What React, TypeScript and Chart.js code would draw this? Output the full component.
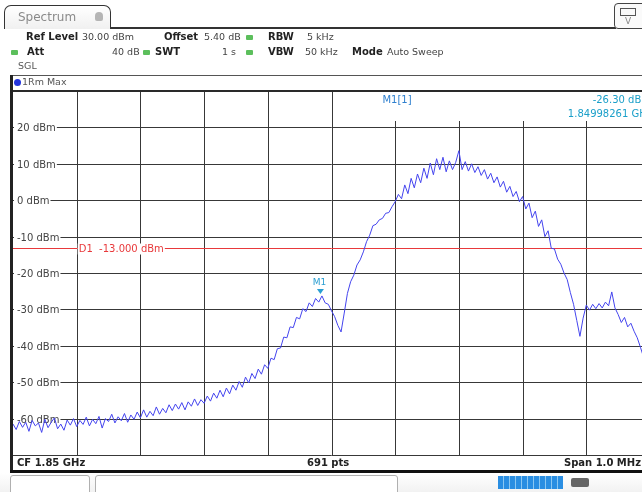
import React, { useEffect, useRef } from "react";
import { Chart, registerables } from "chart.js";

Chart.register(...registerables);

// ---- data ----
const centerGHz = 1.85;
const spanKHz = 1000;
const startKHz = -500;
const stepKHz = 5;
const refLevel = 30;
const bottomLevel = -70;
const levelTicks = [20, 10, 0, -10, -20, -30, -40, -50, -60];
const freqGridKHz = [-400, -300, -200, -100, 0, 100, 200, 300, 400];
const displayLineDbm = -13;
const markerFreqKHz = -17.39;
const markerLevelDbm = -26.3;

// trace levels (dBm), one per 5 kHz from -500 kHz to +500 kHz
const traceDbm = [
  -61.5, -63.0, -60.8, -62.4, -61.0, -63.5, -60.5, -62.0, -61.2, -63.8,
  -60.2, -62.5, -61.0, -59.8, -62.8, -61.5, -63.2, -60.4, -61.8, -60.0,
  -62.2, -60.5, -61.6, -59.6, -62.0, -60.2, -61.4, -59.4, -62.6, -60.0,
  -60.8, -58.8, -61.2, -59.5, -60.6, -58.6, -61.0, -59.0, -60.2, -58.2,
  -59.8, -57.6, -59.6, -58.0, -59.2, -56.8, -58.8, -57.2, -58.4, -56.2,
  -57.8, -56.0, -57.4, -55.6, -57.6, -55.4, -56.6, -54.6, -56.4, -54.8,
  -55.8, -53.8, -55.2, -53.0, -54.4, -52.2, -54.0, -51.6, -53.2, -50.8,
  -52.2, -49.8, -51.4, -48.6, -50.2, -47.6, -49.0, -46.4, -47.8, -45.2,
  -46.2, -43.4, -43.8, -40.8, -40.6, -37.6, -37.8, -34.8, -35.0, -32.2,
  -32.6, -29.8, -30.6, -28.2, -29.2, -27.0, -28.0, -26.3, -28.2, -28.6,
  -30.4, -32.0, -34.4, -36.2, -31.0, -25.6, -22.4, -20.6, -17.8, -16.4,
  -14.2, -11.4, -9.6, -7.0, -6.6, -5.4, -5.0, -3.6, -3.4, -1.8,
  -0.4, 1.6, 0.4, 4.2, 1.8, 6.0, 3.4, 7.2, 4.8, 8.8,
  6.0, 10.2, 7.0, 11.4, 8.4, 11.8, 7.8, 10.8, 8.4, 10.4,
  13.6, 8.4, 10.6, 8.0, 10.0, 7.6, 9.2, 6.8, 8.4, 5.8,
  7.4, 4.8, 6.4, 3.6, 5.2, 2.2, 3.8, 1.0, 2.4, -0.4,
  1.0, -2.4, -0.8, -4.8, -3.0, -7.2, -5.4, -10.0, -8.4, -13.2,
  -13.4, -16.2, -17.6, -20.0, -21.8, -25.4, -28.6, -33.0, -37.4, -32.4,
  -28.8, -30.2, -28.6, -29.8, -28.4, -29.6, -28.0, -29.0, -25.2, -29.6,
  -31.4, -33.6, -32.2, -34.8, -33.8, -36.0, -37.8, -40.4, -43.2, -44.6,
  -46.4,
];

const FONT = "'DejaVu Sans', sans-serif";

const gridPlugin = {
  id: "spectrumGrid",
  beforeDatasetsDraw(chart: any) {
    const ctx = chart.ctx;
    const { left, right, top, bottom } = chart.chartArea;
    const xs = chart.scales.x;
    const ys = chart.scales.y;
    ctx.save();
    ctx.strokeStyle = "#383838";
    ctx.lineWidth = 1;
    for (const v of freqGridKHz) {
      const px = Math.round(xs.getPixelForValue(v)) + 0.5;
      ctx.beginPath();
      ctx.moveTo(px, top);
      ctx.lineTo(px, bottom);
      ctx.stroke();
    }
    const hl = [...levelTicks, bottomLevel];
    for (const v of hl) {
      const py = Math.round(ys.getPixelForValue(v)) + 0.5;
      ctx.beginPath();
      ctx.moveTo(left, py);
      ctx.lineTo(right, py);
      ctx.stroke();
    }
    // top frame line
    ctx.lineWidth = 2;
    ctx.strokeStyle = "#2a2a2a";
    ctx.beginPath();
    ctx.moveTo(left - 3, top);
    ctx.lineTo(right, top);
    ctx.stroke();

    // marker info area
    ctx.fillStyle = "#ffffff";
    const bx = xs.getPixelForValue(8);
    ctx.fillRect(bx, top + 1, right - bx, 29);

    // level labels
    ctx.font = `10px ${FONT}`;
    ctx.textBaseline = "middle";
    ctx.textAlign = "left";
    for (const v of levelTicks) {
      const py = Math.round(ys.getPixelForValue(v)) + 0.5;
      const t = `${v} dBm`;
      const w = ctx.measureText(t).width;
      ctx.fillStyle = "#ffffff";
      ctx.fillRect(left + 1, py - 6, w + 4, 12);
      ctx.fillStyle = "#444444";
      ctx.fillText(t, left + 4, py + 0.5);
    }

    // display line D1
    const dy = Math.round(ys.getPixelForValue(displayLineDbm)) + 0.5;
    ctx.strokeStyle = "#e8393b";
    ctx.lineWidth = 1;
    ctx.beginPath();
    ctx.moveTo(left, dy);
    ctx.lineTo(right, dy);
    ctx.stroke();
    const dt = `D1  ${displayLineDbm.toFixed(3)} dBm`;
    const dx = xs.getPixelForValue(-400) + 2;
    const dw = ctx.measureText(dt).width;
    ctx.fillStyle = "#ffffff";
    ctx.fillRect(dx - 1, dy - 5, dw + 2, 11);
    ctx.fillStyle = "#e8393b";
    ctx.fillText(dt, dx, dy + 1);
    ctx.restore();
  },
  afterDatasetsDraw(chart: any) {
    const ctx = chart.ctx;
    const { right, top } = chart.chartArea;
    const xs = chart.scales.x;
    const ys = chart.scales.y;
    ctx.save();
    const mx = xs.getPixelForValue(markerFreqKHz);
    const my = ys.getPixelForValue(markerLevelDbm) - 2;
    ctx.fillStyle = "#2b9fd2";
    ctx.beginPath();
    ctx.moveTo(mx, my);
    ctx.lineTo(mx - 3.5, my - 5);
    ctx.lineTo(mx + 3.5, my - 5);
    ctx.closePath();
    ctx.fill();
    ctx.font = `9px ${FONT}`;
    ctx.textAlign = "center";
    ctx.textBaseline = "middle";
    ctx.fillText("M1", mx - 1, my - 11);

    ctx.font = `10px ${FONT}`;
    ctx.textAlign = "left";
    ctx.fillStyle = "#2f80cf";
    ctx.fillText("M1[1]", xs.getPixelForValue(80), top + 9);
    ctx.textAlign = "right";
    ctx.fillStyle = "#1a9fc9";
    ctx.fillText(`${markerLevelDbm.toFixed(2)} dBm`, right + 1, top + 9);
    const mf = (centerGHz + markerFreqKHz / 1e6).toFixed(8);
    ctx.fillText(`${mf} GHz`, right + 2, top + 23);
    ctx.restore();
  },
};

type TProps = {
  x?: number;
  r?: number;
  y: number;
  b?: boolean;
  c?: string;
  s?: number;
  children: React.ReactNode;
};

function T({ x, r, y, b, c, s, children }: TProps) {
  const st: React.CSSProperties = {
    position: "absolute",
    top: y - 7,
    height: 14,
    lineHeight: "14px",
    fontFamily: FONT,
    fontSize: s ?? 10,
    fontWeight: b ? "bold" : "normal",
    color: c ?? "#222",
    whiteSpace: "nowrap",
  };
  if (x !== undefined) st.left = x;
  if (r !== undefined) st.right = r;
  return <div style={st}>{children}</div>;
}

function Sq({ x, y }: { x: number; y: number }) {
  return (
    <div
      style={{
        position: "absolute",
        left: x,
        top: y - 2,
        width: 7,
        height: 5,
        borderRadius: 1,
        background: "#5cbf5c",
      }}
    />
  );
}

export default function App() {
  const ref = useRef<HTMLCanvasElement>(null);
  useEffect(() => {
    if (!ref.current) return;
    const pts = traceDbm.map((v, i) => ({ x: startKHz + i * stepKHz, y: v }));
    const chart = new Chart(ref.current, {
      type: "line",
      data: {
        datasets: [
          {
            data: pts,
            borderColor: "rgb(68,68,238)",
            borderWidth: 1,
            pointRadius: 0,
            tension: 0,
            fill: false,
          },
        ],
      },
      options: {
        animation: false,
        responsive: false,
        events: [],
        layout: { padding: { left: 13, top: 91, right: 10, bottom: 37 } },
        scales: {
          x: { type: "linear", min: startKHz, max: startKHz + spanKHz, display: false },
          y: { type: "linear", min: bottomLevel, max: refLevel, display: false },
        },
        plugins: { legend: { display: false }, tooltip: { enabled: false } },
      },
      plugins: [gridPlugin],
    });
    return () => chart.destroy();
  }, []);

  const V = 9.5;
  return (
    <div
      style={{
        position: "absolute",
        left: 0,
        top: 0,
        width: 642,
        height: 492,
        overflow: "hidden",
        background: "#ffffff",
      }}
    >
      <canvas
        ref={ref}
        width={660}
        height={492}
        style={{ position: "absolute", left: 0, top: 0, width: 660, height: 492 }}
      />
      {/* tab */}
      <div
        style={{
          position: "absolute",
          left: 4,
          top: 5,
          width: 105,
          height: 23,
          border: "1.5px solid #333",
          borderBottom: "none",
          borderRadius: "7px 7px 0 0",
          background: "linear-gradient(#ffffff, #f0f0f0)",
        }}
      />
      <T x={18} y={17} s={12} c="#8a8a8a">Spectrum</T>
      <div
        style={{
          position: "absolute",
          left: 95,
          top: 12,
          width: 8,
          height: 9,
          borderRadius: "4px 4px 2px 2px",
          background: "#b5b5b5",
        }}
      />
      <div style={{ position: "absolute", left: 110, top: 27, width: 506, height: 2, background: "#333" }} />
      <div
        style={{
          position: "absolute",
          left: 614,
          top: 3,
          width: 34,
          height: 24,
          border: "1.5px solid #444",
          borderRadius: 4,
          background: "#fafafa",
        }}
      />
      <div style={{ position: "absolute", left: 620, top: 8, width: 14, height: 6, border: "1px solid #555" }} />
      <T x={625} y={21} s={9} c="#888">V</T>

      {/* header rows */}
      <T x={26} y={37} b>Ref Level</T>
      <T x={82} y={37} s={V} c="#444">30.00 dBm</T>
      <T x={164} y={37} b>Offset</T>
      <T x={204} y={37} s={V} c="#444">5.40 dB</T>
      <Sq x={246} y={37} />
      <T x={268} y={37} b>RBW</T>
      <T x={307} y={37} s={V} c="#444">5 kHz</T>

      <Sq x={11} y={52} />
      <T x={27} y={52} b>Att</T>
      <T x={112} y={52} s={V} c="#444">40 dB</T>
      <Sq x={143} y={52} />
      <T x={155} y={52} b>SWT</T>
      <T x={222} y={52} s={V} c="#444">1 s</T>
      <Sq x={246} y={52} />
      <T x={268} y={52} b>VBW</T>
      <T x={305} y={52} s={V} c="#444">50 kHz</T>
      <T x={352} y={52} b>Mode</T>
      <T x={387} y={52} s={V} c="#444">Auto Sweep</T>
      <T x={18} y={66} s={V} c="#555">SGL</T>

      {/* trace label bar */}
      <div style={{ position: "absolute", left: 10, top: 75, width: 640, height: 1, background: "#555" }} />
      <div style={{ position: "absolute", left: 10, top: 75, width: 3, height: 398, background: "#222" }} />
      <div
        style={{
          position: "absolute",
          left: 14,
          top: 79,
          width: 7,
          height: 7,
          borderRadius: 4,
          background: "#2233dd",
        }}
      />
      <T x={22} y={82} s={V} c="#555">1Rm Max</T>

      {/* footer */}
      <T x={17} y={463} b>CF 1.85 GHz</T>
      <T x={307} y={463} b>691 pts</T>
      <T r={1} y={463} b>Span 1.0 MHz</T>
      <div style={{ position: "absolute", left: 10, top: 470, width: 640, height: 3, background: "#111" }} />

      {/* status bar */}
      <div
        style={{
          position: "absolute",
          left: 0,
          top: 473,
          width: 642,
          height: 19,
          background: "linear-gradient(#ffffff, #f2f2f2)",
        }}
      />
      <div
        style={{
          position: "absolute",
          left: 10,
          top: 475,
          width: 78,
          height: 20,
          border: "1px solid #b0b0b0",
          borderRadius: 3,
          background: "#fff",
        }}
      />
      <div
        style={{
          position: "absolute",
          left: 95,
          top: 475,
          width: 301,
          height: 20,
          border: "1px solid #b0b0b0",
          borderRadius: 3,
          background: "#fff",
        }}
      />
      <div
        style={{
          position: "absolute",
          left: 498,
          top: 476,
          width: 65,
          height: 13,
          background: "repeating-linear-gradient(to right, #2a8ee2 0px, #2a8ee2 5px, #8cc8f2 5px, #8cc8f2 6px)",
        }}
      />
      <div
        style={{
          position: "absolute",
          left: 571,
          top: 478,
          width: 18,
          height: 9,
          borderRadius: 2,
          background: "#666",
        }}
      />
    </div>
  );
}
